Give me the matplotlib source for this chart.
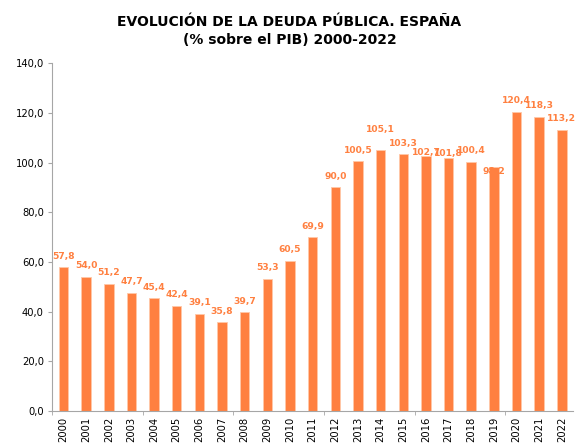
import matplotlib.pyplot as plt
from matplotlib.ticker import FixedLocator

years = [str(y) for y in range(2000, 2023)]
deuda = [57.8, 54.0, 51.2, 47.7, 45.4, 42.4, 39.1, 35.8, 39.7, 53.3, 60.5, 69.9,
         90.0, 100.5, 105.1, 103.3, 102.7, 101.8, 100.4, 98.2, 120.4, 118.3, 113.2]

naranja = '#FF8040'
gris = '#A6A6A6'

# label heights over the bar (points), a few moved by hand as in the original
ajuste = {2014: 14.5, 2016: 2.2, 2017: 3.6, 2019: -3.0}

fig = plt.figure(figsize=(5.79, 4.44), dpi=100)
ax = fig.add_axes([0.09, 0.074, 0.9, 0.784])

x = list(range(len(years)))
ax.bar(x, deuda, width=0.42, color=naranja, edgecolor='#FFC8A8', linewidth=0.6)

for xi, yr, v in zip(x, years, deuda):
    txt = f"{v:.1f}".replace('.', ',')
    dy = ajuste.get(int(yr), 8.0)
    ax.annotate(txt, (xi, v), xytext=(0, dy), textcoords='offset points',
                ha='center', va='center', fontsize=6.6, fontweight='bold',
                color=naranja)

ax.set_xlim(-0.5, len(years) - 0.5)
ax.set_ylim(0, 140)
ax.set_yticks(range(0, 141, 20))
ax.set_yticklabels([f"{t},0" for t in range(0, 141, 20)], fontsize=7.2)
ax.set_xticks(x)
ax.set_xticklabels(years, rotation=90, fontsize=7.2)
ax.tick_params(axis='x', which='major', length=0, pad=4)
ax.xaxis.set_minor_locator(FixedLocator([-0.5, 3.5, 7.5, 11.5, 15.5, 19.5]))
ax.tick_params(axis='x', which='minor', length=3, color=gris)
ax.tick_params(axis='y', length=3, color=gris, pad=3)

for s in ['top', 'right']:
    ax.spines[s].set_visible(False)
for s in ['left', 'bottom']:
    ax.spines[s].set_color(gris)

fig.text(0.5, 0.950, 'EVOLUCIÓN DE LA DEUDA PÚBLICA. ESPAÑA',
         ha='center', va='center', fontsize=10, fontweight='bold')
fig.text(0.5, 0.910, '(% sobre el PIB) 2000-2022',
         ha='center', va='center', fontsize=10, fontweight='bold')

fig.savefig('out.png', dpi=100)
